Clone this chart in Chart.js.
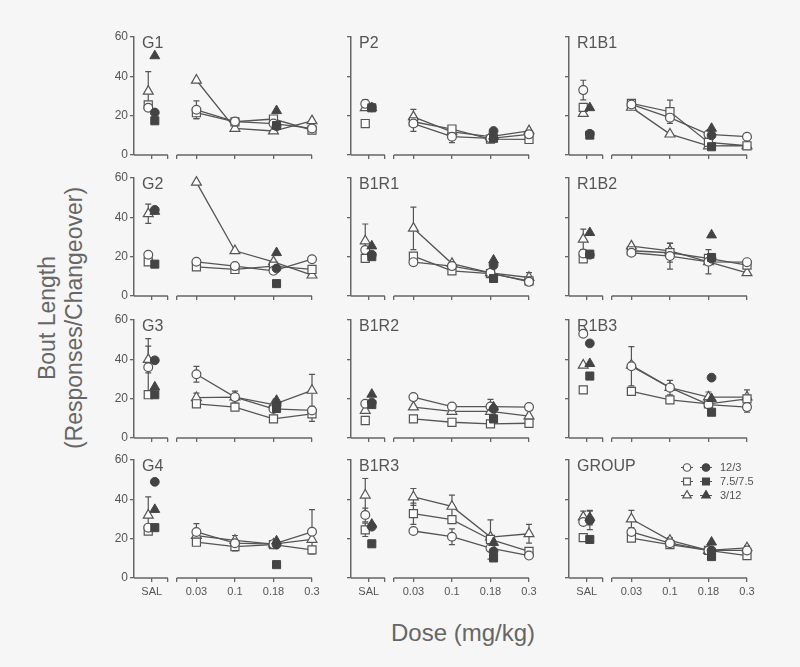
<!DOCTYPE html>
<html>
<head>
<meta charset="utf-8">
<title>Bout Length by Dose</title>
<script src="https://cdn.jsdelivr.net/npm/chart.js"></script>
<style>
  html, body { margin: 0; padding: 0; background: #f6f6f6; }
  #page { position: relative; width: 800px; height: 667px; overflow: hidden;
          font-family: "Liberation Sans", Arial, sans-serif; color: #666; }
  #page canvas { position: absolute; }
  .title { position: absolute; white-space: nowrap; text-align: center; }
  .ytitle { width: 400px; height: 28px; line-height: 28px; font-size: 23px; transform: rotate(-90deg); }
</style>
</head>
<body>
<div id="page">
  <div class="title ytitle" style="left:-153px; top:304px;">Bout Length</div>
  <div class="title ytitle" style="left:-126px; top:304px;">(Responses/Changeover)</div>
  <div class="title" style="left:313px; top:619px; width:300px; font-size:24px;">Dose (mg/kg)</div>
</div>

<script>
// ---- data -----------------------------------------------------------
const panelNames = ['G1', 'P2', 'R1B1', 'G2', 'B1R1', 'R1B2', 'G3', 'B1R2', 'R1B3', 'G4', 'B1R3', 'GROUP'];
const doseLabels = ['0.03', '0.1', '0.18', '0.3'];
const groupLabels = ['12/3', '7.5/7.5', '3/12'];
const yTicks = [0, 20, 40, 60];

// open symbols: [SAL, 0.03, 0.1, 0.18, 0.3] for each panel
const openCircle = [
  [24, 23, 17, 16, 13.5],
  [26, 16, 9.3, 8.5, 10.5],
  [33, 25.7, 19, 10.5, 9.3],
  [21, 17.4, 15.2, 12.8, 18.7],
  [23.4, 17.2, 15.2, 11.8, 7.2],
  [21.6, 22, 20.3, 17.4, 17.2],
  [36, 32.4, 20.8, 14.8, 14],
  [17.4, 20.8, 16, 16, 15.7],
  [53, 36.5, 25.6, 17, 15.7],
  [25.6, 23.4, 17.7, 17.2, 23.5],
  [32, 23.9, 21, 15.2, 11.4],
  [28.5, 23.4, 17.7, 14, 14]
];
const openSquare = [
  [25.5, 21.5, 16.9, 18.3, 12.7],
  [16, 16.9, 13.2, 8.1, 7.9],
  [24.2, 26.2, 22, 6.4, 4.7],
  [17.4, 14.8, 13.5, 15.2, 13.5],
  [19.1, 20.3, 12.8, 11.4, 7.7],
  [18.9, 23, 22, 19.1, 15.7],
  [22, 17.4, 15.7, 9.7, 12.3],
  [8.9, 9.7, 8, 7.2, 7.5],
  [24.5, 23.7, 19.4, 17.4, 19.9],
  [23.9, 18.2, 16, 17, 14.3],
  [24.5, 32.7, 29.7, 19.6, 13.5],
  [20.5, 20.3, 17, 14, 11.4]
];
const openTriangle = [
  [32.4, 38, 13.5, 12.2, 17.4],
  [24, 19.4, 11.8, 9.3, 12.3],
  [21.1, 24.2, 10.6, 4.6, 4.7],
  [41.8, 57.8, 23, 17.4, 10.6],
  [28, 34.4, 16.5, 11.8, 9.4],
  [28.8, 25.4, 23, 17.4, 11.8],
  [39.9, 20.5, 20.8, 17, 24.2],
  [14, 15.7, 13.5, 13.5, 11.1],
  [37, 37, 25.6, 20.8, 20.8],
  [31.9, 21.6, 19.1, 17.2, 19.6],
  [42.1, 41.2, 36.4, 20.8, 22.5],
  [31, 30, 19.1, 14, 15.3]
];
// error bars of the open symbols, same layout
const errCircle = [
  [0, 4.5, 0, 0, 0], [2.2, 4, 3, 0, 0], [5, 0, 0, 0, 0], [0, 0, 0, 0, 0],
  [0, 0, 0, 0, 0], [0, 0, 6.6, 6.2, 0], [14.5, 4, 3, 0, 0], [0, 0, 0, 3.6, 0],
  [0, 10, 3.7, 0, 2.6], [0, 4.2, 3.9, 0, 11.3], [3.5, 0, 4, 0, 0], [0, 0, 0, 0, 2.5]
];
const errSquare = [
  [0, 3, 0, 0, 0], [0, 0, 0, 0, 0], [0, 0, 5.9, 0, 0], [0, 0, 0, 0, 0],
  [0, 0, 0, 0, 0], [0, 0, 4.8, 0, 0], [0, 0, 0, 0, 3.8], [0, 0, 0, 0, 0],
  [0, 0, 0, 0, 4.6], [0, 0, 0, 0, 0], [3.4, 5.4, 0, 10, 0], [0, 0, 0, 0, 0]
];
const errTriangle = [
  [10, 0, 0, 0, 0], [0, 3.8, 0, 0, 0], [0, 0, 0, 0, 0], [4.9, 0, 0, 0, 0],
  [8.6, 10.8, 0, 0, 2.5], [5.2, 0, 0, 0, 0], [6.8, 2.3, 0, 0, 8.2], [0, 0, 0, 0, 0],
  [0, 1.5, 0, 2.6, 0], [9.3, 0, 0, 0, 0], [8.5, 4.3, 5.7, 0, 4.8], [3, 4.4, 1.5, 0, 0]
];

// filled symbols: [SAL, 0.18]
const filledCircle = [
  [21.6, 14.7], [24.2, 12.2], [10.8, 10], [43.8, 14], [21, 15.7], [21, 19],
  [39.5, 16.5], [18, 14.8], [48.1, 30.7], [48.9, 17], [26.1, 13.6], [29.3, 14]
];
const filledSquare = [
  [17.4, 15], [24, 8.5], [10.1, 4.2], [16.2, 6.3], [20, 8.9], [21.3, 19.6],
  [22, 15], [17, 9.7], [31.5, 13.1], [25.6, 6.8], [17.4, 10.2], [19.6, 10.9]
];
const filledTriangle = [
  [50.4, 22.5], [24, 9.5], [24, 13.5], [43, 22], [25.4, 18.2], [32.2, 31],
  [25.9, 19.1], [22.2, 15.7], [37.8, 20], [34.8, 18.8], [27.3, 18], [30.7, 18.2]
];
const errFilledCircle = [
  [0, 0], [0, 0], [0, 0], [0, 0], [0, 0], [0, 0],
  [0, 0], [0, 0], [0, 0], [0, 0], [0, 0], [4.7, 0]
];
const errFilledTriangle = [
  [0, 0], [0, 0], [0, 0], [0, 0], [0, 0], [0, 0],
  [0, 0], [0, 0], [0, 0], [0, 0], [0, 0], [3.7, 0]
];

// ---- layout ---------------------------------------------------------
const colAxisX = [134, 351, 569];
const rowTopY = [37, 178, 320, 460];
const PLOT_W = 178, PLOT_H = 118;
const PAD_L = 40, PAD_T = 14, PAD_R = 12, PAD_B = 26;

// x positions on the broken axis (doses sit at 1..4)
const X_MIN = -0.62, X_MAX = 4;
const SAL_X = -0.16, SAL_END = 0.26, DOSE_START = 0.49;
const OPEN_SHIFT = -0.09, FILLED_SHIFT = 0.08;
const xTickPos = [SAL_X, SAL_END, DOSE_START, 1, 2, 3, 4];
const xTickText = ['SAL', '', '', ...doseLabels];

const AXIS = '#666', INK = '#555', DARK = '#444', OPEN_FILL = '#fbfbfb';
const FONT = '"Liberation Sans", Arial, sans-serif';
const shapes = [
  { style: 'circle', radius: 4.4 },
  { style: 'rect', radius: 5.7 },
  { style: 'triangle', radius: 5.7 }
];

function openPoints(vals) {
  // SAL point, a gap, then the four doses joined by a line
  const pts = [{ x: SAL_X + OPEN_SHIFT, y: vals[0] }, { x: SAL_END, y: null }];
  vals.slice(1).forEach((v, i) => pts.push({ x: i + 1, y: v }));
  return pts;
}
function filledPoints(vals) {
  return [{ x: SAL_X + FILLED_SHIFT, y: vals[0] }, { x: 3 + FILLED_SHIFT, y: vals[1] }];
}

function drawMarker(ctx, style, r, x, y, fill) {
  ctx.beginPath();
  if (style === 'circle') {
    ctx.arc(x, y, r, 0, Math.PI * 2);
  } else if (style === 'rect') {
    const s = r * Math.SQRT1_2;
    ctx.rect(x - s, y - s, 2 * s, 2 * s);
  } else {
    for (let k = 0; k < 3; k++) {
      const a = k * 2 * Math.PI / 3;
      const px = x + Math.sin(a) * r, py = y - Math.cos(a) * r;
      k ? ctx.lineTo(px, py) : ctx.moveTo(px, py);
    }
    ctx.closePath();
  }
  ctx.fillStyle = fill;
  ctx.fill();
  ctx.stroke();
}

const framePlugin = {
  id: 'frame',
  beforeDatasetsDraw(chart) {
    const ctx = chart.ctx, ys = chart.scales.y;
    ctx.save();
    ctx.strokeStyle = INK;
    ctx.lineWidth = 1.2;
    chart.data.datasets.forEach((ds, di) => {
      if (!ds.errors) return;
      const meta = chart.getDatasetMeta(di);
      ds.data.forEach((p, i) => {
        const e = ds.errors[i];
        if (!e || p.y == null) return;
        const x = meta.data[i].x;
        const yt = ys.getPixelForValue(p.y + e), yb = ys.getPixelForValue(Math.max(0, p.y - e));
        ctx.beginPath();
        ctx.moveTo(x, yt); ctx.lineTo(x, yb);
        ctx.moveTo(x - 3, yt); ctx.lineTo(x + 3, yt);
        ctx.moveTo(x - 3, yb); ctx.lineTo(x + 3, yb);
        ctx.stroke();
      });
    });
    ctx.restore();
  },
  afterDraw(chart) {
    const ctx = chart.ctx, xs = chart.scales.x, area = chart.chartArea;
    const opts = chart.options.plugins.frame;
    ctx.save();
    // broken x axis
    ctx.strokeStyle = AXIS;
    ctx.lineWidth = 1.5;
    ctx.beginPath();
    ctx.moveTo(area.left, area.bottom);
    ctx.lineTo(xs.getPixelForValue(SAL_END), area.bottom);
    ctx.moveTo(xs.getPixelForValue(DOSE_START), area.bottom);
    ctx.lineTo(xs.getPixelForValue(X_MAX), area.bottom);
    ctx.stroke();
    // panel name
    ctx.fillStyle = INK;
    ctx.font = '16px ' + FONT;
    ctx.textBaseline = 'top';
    ctx.fillText(opts.name, area.left + 8, area.top - 1);
    // legend in the group panel
    if (opts.legend) {
      ctx.font = '11px ' + FONT;
      ctx.textBaseline = 'middle';
      ctx.lineWidth = 1.2;
      groupLabels.forEach((lab, g) => {
        const y = area.top + 7.5 + g * 14;
        const x0 = area.left + 118;
        ctx.strokeStyle = INK;
        ctx.beginPath();
        ctx.moveTo(x0 - 6, y); ctx.lineTo(x0 + 6, y);
        ctx.moveTo(x0 + 13, y); ctx.lineTo(x0 + 25, y);
        ctx.stroke();
        drawMarker(ctx, shapes[g].style, shapes[g].radius * 0.85, x0, y, OPEN_FILL);
        ctx.strokeStyle = DARK;
        drawMarker(ctx, shapes[g].style, shapes[g].radius * 0.85, x0 + 19, y, DARK);
        ctx.fillStyle = INK;
        ctx.fillText(lab, x0 + 33, y + 0.5);
      });
    }
    ctx.restore();
  }
};

const page = document.getElementById('page');

panelNames.forEach((name, p) => {
  const row = Math.floor(p / 3), col = p % 3;
  const canvas = document.createElement('canvas');
  canvas.width = PAD_L + PLOT_W + PAD_R;
  canvas.height = PAD_T + PLOT_H + PAD_B;
  canvas.style.left = (colAxisX[col] - PAD_L) + 'px';
  canvas.style.top = (rowTopY[row] - PAD_T) + 'px';
  page.appendChild(canvas);

  const openVals = [openCircle[p], openSquare[p], openTriangle[p]];
  const openErr = [errCircle[p], errSquare[p], errTriangle[p]];
  const filledVals = [filledCircle[p], filledSquare[p], filledTriangle[p]];
  const filledErr = [errFilledCircle[p], [0, 0], errFilledTriangle[p]];

  const datasets = [];
  filledVals.forEach((vals, g) => {
    datasets.push({
      data: filledPoints(vals),
      errors: filledErr[g],
      showLine: false,
      pointStyle: shapes[g].style,
      pointRadius: shapes[g].radius,
      pointBackgroundColor: DARK,
      pointBorderColor: DARK,
      pointBorderWidth: 1,
      clip: false,
      order: 1
    });
  });
  openVals.forEach((vals, g) => {
    const e = openErr[g];
    datasets.push({
      data: openPoints(vals),
      errors: [e[0], 0, e[1], e[2], e[3], e[4]],
      borderColor: INK,
      borderWidth: 1.3,
      spanGaps: false,
      pointStyle: shapes[g].style,
      pointRadius: shapes[g].radius,
      pointBackgroundColor: OPEN_FILL,
      pointBorderColor: INK,
      pointBorderWidth: 1.2,
      clip: false,
      order: 2
    });
  });

  new Chart(canvas, {
    type: 'line',
    data: { datasets },
    plugins: [framePlugin],
    options: {
      responsive: false,
      animation: false,
      events: [],
      layout: { padding: { left: 0, top: PAD_T, right: PAD_R, bottom: 0 } },
      plugins: {
        legend: { display: false },
        tooltip: { enabled: false },
        frame: { name, legend: name === 'GROUP' }
      },
      scales: {
        x: {
          type: 'linear',
          min: X_MIN,
          max: X_MAX,
          afterBuildTicks: s => { s.ticks = xTickPos.map(v => ({ value: v })); },
          afterFit: s => { s.height = PAD_B; },
          border: { display: false },
          grid: { drawOnChartArea: false, drawTicks: true, tickLength: 4, color: AXIS, lineWidth: 1.3 },
          ticks: {
            display: row === 3,
            autoSkip: false,
            maxRotation: 0,
            padding: 3,
            color: INK,
            font: { family: FONT, size: 11 },
            callback: (v, i) => xTickText[i]
          }
        },
        y: {
          min: 0,
          max: 60,
          afterBuildTicks: s => { s.ticks = yTicks.map(v => ({ value: v })); },
          afterFit: s => { s.width = PAD_L; },
          border: { display: true, color: AXIS, width: 1.5 },
          grid: { drawOnChartArea: false, drawTicks: true, tickLength: 4, color: AXIS, lineWidth: 1.3 },
          ticks: {
            display: col === 0,
            padding: 2,
            color: INK,
            font: { family: FONT, size: 12 }
          }
        }
      }
    }
  });
});
</script>
</body>
</html>
